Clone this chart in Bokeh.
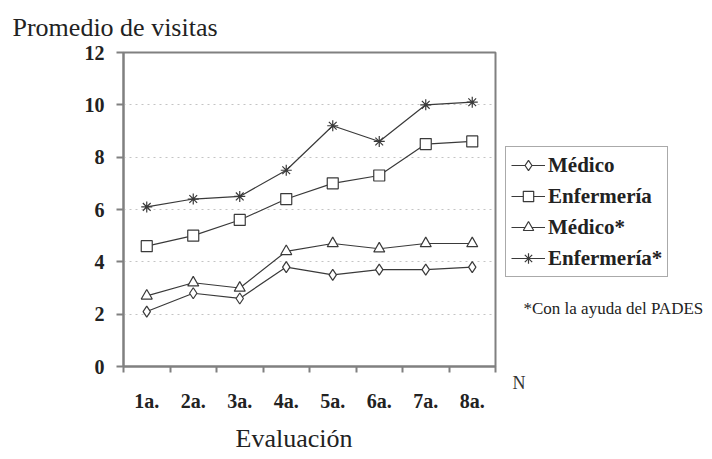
from bokeh.plotting import figure
from bokeh.layouts import row
from bokeh.models import Range1d, FixedTicker, Legend, LegendItem, Label, Title
from bokeh.embed import file_html
from bokeh.resources import INLINE

categories = ["1a.", "2a.", "3a.", "4a.", "5a.", "6a.", "7a.", "8a."]
medico = [2.1, 2.8, 2.6, 3.8, 3.5, 3.7, 3.7, 3.8]
enfermeria = [4.6, 5.0, 5.6, 6.4, 7.0, 7.3, 8.5, 8.6]
medico_pades = [2.7, 3.2, 3.0, 4.4, 4.7, 4.5, 4.7, 4.7]
enfermeria_pades = [6.1, 6.4, 6.5, 7.5, 9.2, 8.6, 10.0, 10.1]
y_ticks = [0, 2, 4, 6, 8, 10, 12]
series_names = ["Médico", "Enfermería", "Médico*", "Enfermería*"]
markers = ["diamond", "square", "triangle", "asterisk"]

FONT = "Liberation Serif"
AX = "#808080"
INK = "#3a3a3a"
H = 459

x = list(range(1, len(categories) + 1))

p = figure(width=500, height=H, output_backend="svg", toolbar_location=None,
           x_range=Range1d(0.5, len(categories) + 0.5), y_range=Range1d(0, 12),
           min_border_left=123, min_border_right=5, min_border_top=52, min_border_bottom=H - 366)
p.title.text = "Promedio de visitas"
p.title.align = "left"
p.title.vertical_align = "top"
p.title.offset = -111
p.title.standoff = 18
p.title.text_font = FONT
p.title.text_font_size = "26px"
p.title.text_font_style = "normal"
p.title.text_color = "#222222"
p.background_fill_color = "white"
p.border_fill_color = "white"
p.outline_line_color = AX
p.outline_line_width = 2

# x axis: labels at category centres, tick marks between categories
p.xaxis.ticker = FixedTicker(ticks=x, minor_ticks=[v - 0.5 for v in x] + [x[-1] + 0.5])
p.xaxis.major_label_overrides = {v: c for v, c in zip(x, categories)}
p.xaxis.major_tick_out = 0
p.xaxis.major_tick_in = 0
p.xaxis.minor_tick_out = 6
p.xaxis.minor_tick_in = 0
p.xaxis.minor_tick_line_color = AX
p.xaxis.minor_tick_line_width = 2
p.xaxis.axis_line_color = AX
p.xaxis.axis_line_width = 2
p.xaxis.major_label_text_font = FONT
p.xaxis.major_label_text_font_style = "bold"
p.xaxis.major_label_text_font_size = "20px"
p.xaxis.major_label_text_color = "#222222"
p.xaxis.major_label_standoff = 17

# y axis
p.yaxis.ticker = FixedTicker(ticks=y_ticks)
p.yaxis.major_tick_out = 7
p.yaxis.major_tick_in = 0
p.yaxis.minor_tick_out = 0
p.yaxis.minor_tick_in = 0
p.yaxis.major_tick_line_color = AX
p.yaxis.major_tick_line_width = 2
p.yaxis.axis_line_color = AX
p.yaxis.axis_line_width = 2
p.yaxis.major_label_text_font = FONT
p.yaxis.major_label_text_font_style = "bold"
p.yaxis.major_label_text_font_size = "20px"
p.yaxis.major_label_text_color = "#222222"
p.yaxis.major_label_standoff = 12

p.xgrid.visible = False
p.ygrid.grid_line_color = "#c4c4c4"
p.ygrid.grid_line_dash = "dotted"
p.ygrid.grid_line_width = 1

all_series = [medico, enfermeria, medico_pades, enfermeria_pades]
for vals, mk in zip(all_series, markers):
    p.line(x, vals, line_color=INK, line_width=1.2)
    p.scatter(x, vals, marker=mk, size=11, fill_color="white",
              line_color=INK, line_width=1.2)

p.add_layout(Title(text="Evaluación", align="left", offset=112, standoff=14,
                   vertical_align="bottom",
                   text_font=FONT, text_font_size="26px", text_font_style="normal",
                   text_color="#222222"), "below")

# side panel holding legend and notes (its frame is aligned with the main frame)
SW = 210
s = figure(width=SW, height=H, output_backend="svg", toolbar_location=None,
           x_range=Range1d(0, 1), y_range=Range1d(0, 1),
           x_axis_location=None, y_axis_location=None,
           min_border_left=0, min_border_right=0, min_border_top=0, min_border_bottom=0)
s.title.visible = False
s.outline_line_color = None
s.xgrid.visible = False
s.ygrid.visible = False
s.background_fill_color = "white"
s.border_fill_color = "white"

nan = [float("nan")]
items = []
for name, mk in zip(series_names, markers):
    ln = s.line(nan, nan, line_color=INK, line_width=1.2)
    sc = s.scatter(nan, nan, marker=mk, size=11, fill_color="white",
                   line_color=INK, line_width=1.2)
    items.append(LegendItem(label=name, renderers=[ln, sc]))

legend = Legend(items=items, location=(5, 89))
legend.label_text_font = FONT
legend.label_text_font_style = "bold"
legend.label_text_font_size = "21px"
legend.label_text_color = "#222222"
legend.glyph_width = 34
legend.glyph_height = 26
legend.label_standoff = 3
legend.spacing = 5
legend.padding = 5
legend.margin = 0
legend.border_line_color = "#555555"
legend.border_line_width = 1.5
legend.background_fill_alpha = 1
s.add_layout(legend)

s.add_layout(Label(x=23, y=58, x_units="screen", y_units="screen",
                   text="*Con la ayuda del PADES", text_font=FONT,
                   text_font_size="17px", text_color="#222222", text_baseline="alphabetic"))
s.add_layout(Title(text="N", align="left", offset=12, standoff=9, vertical_align="bottom",
                   text_font=FONT, text_font_size="18px", text_font_style="normal",
                   text_color="#333333"), "below")

layout = row(p, s, spacing=0)
open("out.html", "w").write(file_html(layout, INLINE))
